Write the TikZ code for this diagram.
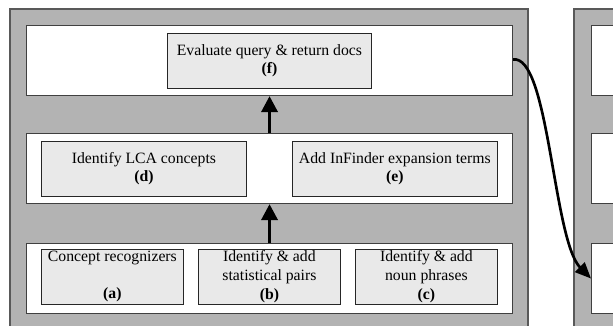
\documentclass[tikz,border=0pt]{standalone}
\usepackage{fontspec}
\setmainfont{Liberation Serif}
\usetikzlibrary{arrows.meta, positioning, calc}
\definecolor{panelgray}{RGB}{179, 179, 179}
\definecolor{stagegray}{RGB}{233, 233, 233}

\tikzset{
  panel/.style={draw=black!65, fill=panelgray, line width=0.8pt},
  tier/.style={draw=black!75, fill=white, line width=0.8pt, anchor=north west,
    minimum width=364.5pt, minimum height=52.5pt, inner sep=0pt},
  stage/.style={draw=black!85, fill=stagegray, line width=0.6pt, anchor=north west,
    align=center, inner sep=0pt, minimum height=41pt,
    font=\fontsize{11.8}{14}\selectfont},
  upflow/.style={-{Triangle[length=12pt, width=12pt]}, line width=2.6pt},
  handoff/.style={-{Triangle[length=12pt, width=10pt]}, line width=2pt}
}

\begin{document}
\begin{tikzpicture}[x=0.75pt, y=-0.75pt]
  \useasboundingbox (0,0) rectangle (613,325);
  \clip (0,0) rectangle (613,325);

  % grey panels
  \draw[panel] (10,9) rectangle (528,345);
  \draw[panel] (574,9) rectangle (660,345);

  % tiers of the left panel
  \node[tier] (top) at (26,25) {};
  \node[tier] (mid) at (26,133) {};
  \node[tier] (low) at (26,243) {};

  % tiers of the right panel
  \node[tier] (rtop) at (591,25) {};
  \node[tier] (rmid) at (591,133) {};
  \node[tier] (rlow) at (591,243) {};

  % stages
  \node[stage, minimum width=153pt] (evaluate) at (167,33)
    {Evaluate query \& return docs\\\textbf{(f)}};
  \node[stage, minimum width=153.75pt] (lca) at (41,141)
    {Identify LCA concepts\\\textbf{(d)}};
  \node[stage, minimum width=153.75pt] (infinder) at (292,141)
    {Add InFinder expansion terms\\\textbf{(e)}};
  \node[stage, minimum width=106.5pt] (recog) at (41,249)
    {Concept recognizers\\[14pt]\textbf{(a)}};
  \node[stage, minimum width=106.5pt] (pairs) at (198,249)
    {Identify \& add\\statistical pairs\\\textbf{(b)}};
  \node[stage, minimum width=106.5pt] (phrases) at (355,249)
    {Identify \& add\\noun phrases\\\textbf{(c)}};

  % flow between tiers
  \draw[upflow] (low.north) -- (mid.south);
  \draw[upflow] (mid.north) -- (top.south);

  % hand over to the next panel
  \draw[handoff] ($(top.east)+(0,-1)$) .. controls (549,54) and (553,240) .. (rlow.west);
\end{tikzpicture}
\end{document}
